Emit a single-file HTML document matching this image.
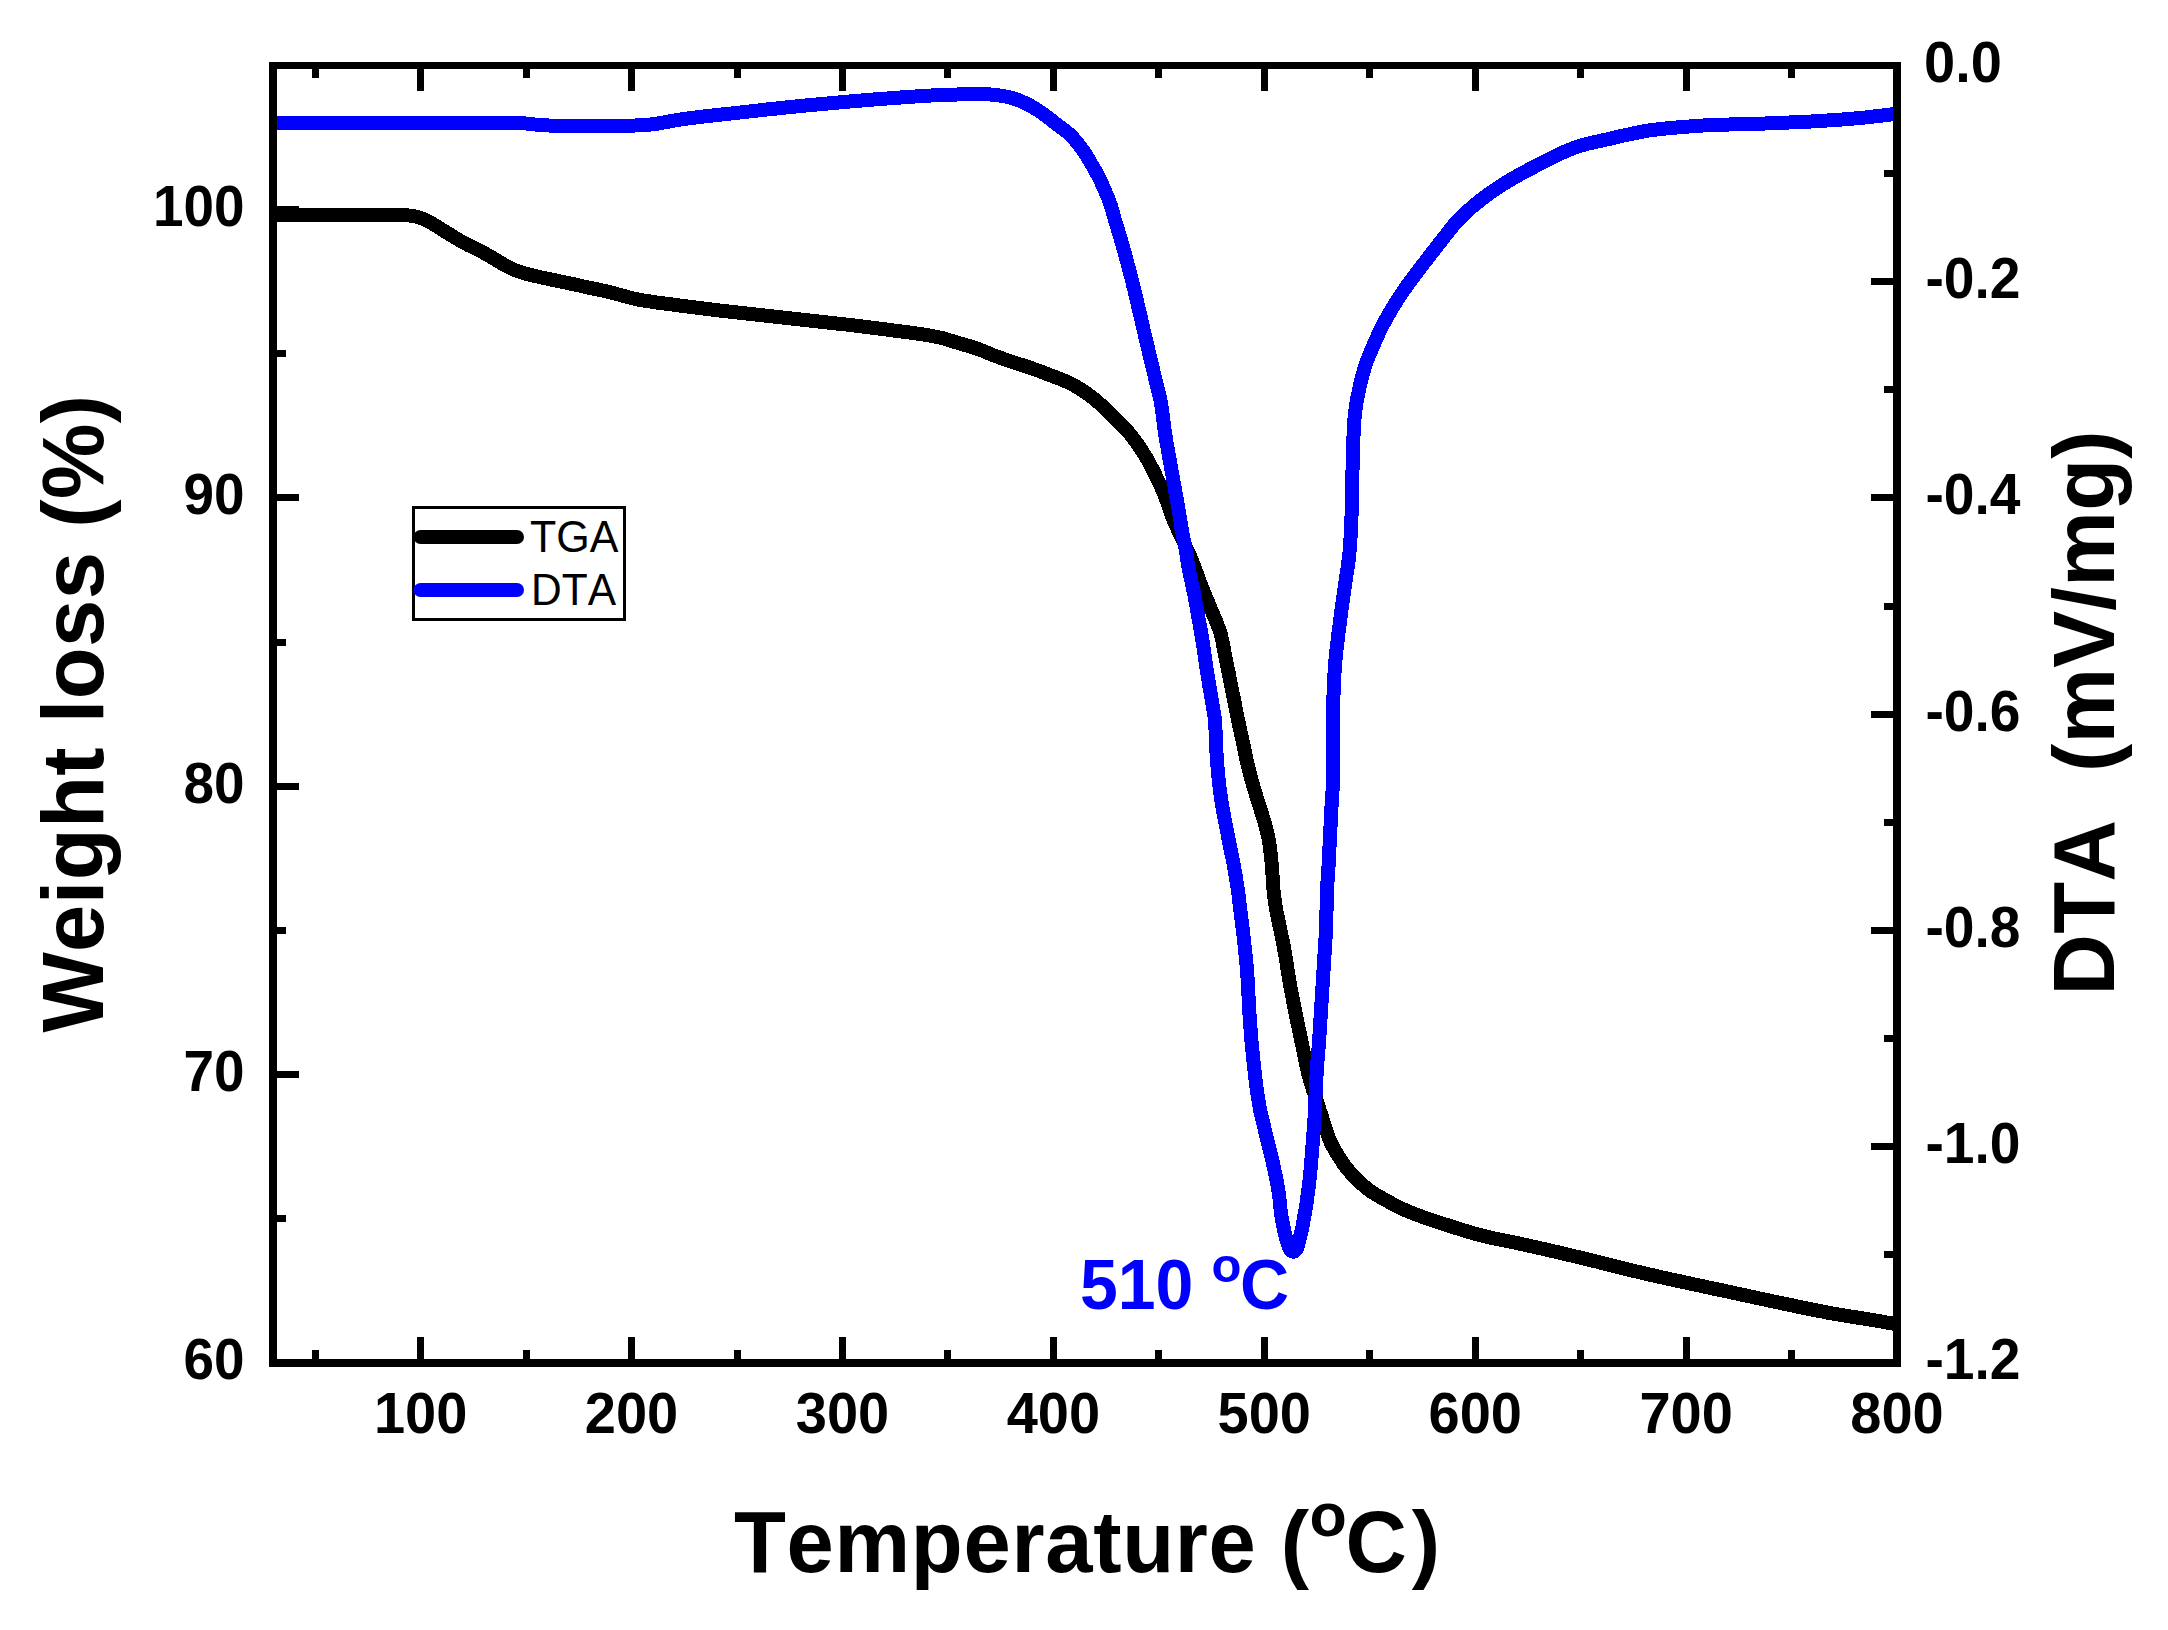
<!DOCTYPE html>
<html lang="en"><head><meta charset="utf-8"><title>TGA / DTA</title>
<style>html,body{margin:0;padding:0;background:#fff}body{width:2168px;height:1630px;overflow:hidden}svg{display:block}text{font-family:"Liberation Sans",sans-serif;font-kerning:none;font-variant-ligatures:none}.b{font-weight:bold}</style></head><body>
<svg width="2168" height="1630" viewBox="0 0 2168 1630">
<rect width="2168" height="1630" fill="#fff"/>
<defs><clipPath id="pc"><rect x="273" y="65.5" width="1624" height="1297.5"/></clipPath></defs>
<g clip-path="url(#pc)" fill="none" stroke-width="14" stroke-linejoin="round" stroke-linecap="butt" shape-rendering="crispEdges">
<path stroke="#000" d="M269.0,215.3 L274.6,215.3 L275.8,215.3 L277.3,215.3 L279.1,215.3 L281.0,215.3 L283.0,215.3 L285.0,215.3 L287.0,215.3 L289.0,215.3 L291.0,215.3 L293.0,215.3 L295.0,215.3 L297.0,215.3 L299.0,215.3 L301.0,215.3 L303.0,215.3 L305.0,215.3 L307.0,215.3 L309.0,215.3 L311.0,215.3 L313.0,215.3 L315.0,215.3 L317.0,215.3 L319.0,215.3 L321.0,215.3 L323.0,215.3 L325.0,215.3 L327.0,215.3 L329.0,215.3 L331.0,215.3 L333.0,215.3 L335.0,215.3 L337.0,215.3 L339.0,215.3 L341.0,215.3 L343.0,215.3 L345.0,215.3 L347.0,215.3 L349.0,215.3 L351.0,215.3 L353.0,215.3 L355.0,215.3 L357.0,215.3 L359.0,215.3 L361.0,215.2 L363.0,215.2 L365.0,215.2 L367.0,215.2 L369.0,215.2 L371.0,215.2 L373.0,215.2 L375.0,215.2 L377.0,215.2 L379.0,215.2 L381.0,215.2 L383.0,215.2 L385.0,215.2 L387.0,215.2 L389.0,215.2 L391.0,215.2 L393.0,215.2 L395.0,215.2 L397.0,215.2 L399.0,215.2 L401.0,215.2 L403.0,215.3 L405.0,215.3 L407.0,215.4 L409.0,215.5 L411.0,215.7 L412.9,216.0 L414.9,216.4 L416.8,216.8 L418.8,217.4 L420.6,218.0 L422.5,218.7 L424.4,219.5 L426.2,220.3 L428.0,221.2 L429.7,222.1 L431.5,223.1 L433.2,224.1 L434.9,225.1 L436.6,226.2 L438.3,227.2 L440.0,228.3 L441.7,229.4 L443.4,230.5 L445.1,231.5 L446.8,232.6 L448.5,233.6 L450.2,234.7 L451.9,235.7 L453.6,236.8 L455.3,237.8 L457.1,238.9 L458.8,239.9 L460.5,240.9 L462.2,241.9 L464.0,242.8 L465.8,243.8 L467.5,244.7 L469.3,245.6 L471.1,246.4 L472.9,247.3 L474.7,248.2 L476.5,249.0 L478.3,249.9 L480.1,250.8 L481.9,251.8 L483.6,252.7 L485.4,253.7 L487.1,254.7 L488.9,255.7 L490.6,256.7 L492.3,257.7 L494.0,258.7 L495.7,259.7 L497.5,260.8 L499.2,261.8 L500.9,262.8 L502.6,263.8 L504.4,264.8 L506.1,265.8 L507.9,266.7 L509.7,267.6 L511.5,268.5 L513.3,269.3 L515.1,270.1 L517.0,270.8 L518.9,271.5 L520.7,272.2 L522.7,272.8 L524.6,273.3 L526.5,273.9 L528.4,274.4 L530.4,274.9 L532.3,275.4 L534.3,275.8 L536.2,276.3 L538.2,276.7 L540.1,277.2 L542.1,277.6 L544.0,278.0 L546.0,278.4 L547.9,278.9 L549.9,279.3 L551.8,279.7 L553.8,280.1 L555.8,280.5 L557.7,280.9 L559.7,281.3 L561.6,281.7 L563.6,282.1 L565.5,282.5 L567.5,282.9 L569.5,283.3 L571.4,283.8 L573.4,284.2 L575.3,284.6 L577.3,285.0 L579.2,285.5 L581.2,285.9 L583.1,286.4 L585.1,286.8 L587.0,287.2 L589.0,287.7 L590.9,288.1 L592.9,288.5 L594.9,288.9 L596.8,289.3 L598.8,289.7 L600.7,290.1 L602.7,290.5 L604.6,291.0 L606.6,291.4 L608.5,291.9 L610.5,292.4 L612.4,292.9 L614.4,293.4 L616.3,293.9 L618.2,294.4 L620.2,295.0 L622.1,295.5 L624.0,296.0 L626.0,296.6 L627.9,297.1 L629.8,297.6 L631.8,298.1 L633.7,298.5 L635.7,299.0 L637.6,299.4 L639.6,299.8 L641.5,300.1 L643.5,300.5 L645.4,300.8 L647.4,301.1 L649.4,301.4 L651.4,301.7 L653.3,302.0 L655.3,302.3 L657.3,302.6 L659.3,302.9 L661.3,303.1 L663.3,303.4 L665.2,303.6 L667.2,303.9 L669.2,304.1 L671.2,304.4 L673.2,304.6 L675.2,304.9 L677.2,305.1 L679.1,305.4 L681.1,305.7 L683.1,305.9 L685.1,306.2 L687.1,306.4 L689.1,306.7 L691.0,306.9 L693.0,307.2 L695.0,307.5 L697.0,307.7 L699.0,308.0 L701.0,308.2 L703.0,308.5 L704.9,308.7 L706.9,309.0 L708.9,309.2 L710.9,309.4 L712.9,309.7 L714.9,309.9 L716.8,310.2 L718.8,310.4 L720.8,310.6 L722.8,310.9 L724.8,311.1 L726.8,311.3 L728.8,311.5 L730.8,311.8 L732.7,312.0 L734.7,312.2 L736.7,312.4 L738.7,312.6 L740.7,312.9 L742.7,313.1 L744.7,313.3 L746.7,313.5 L748.7,313.7 L750.6,313.9 L752.6,314.1 L754.6,314.4 L756.6,314.6 L758.6,314.8 L760.6,315.0 L762.6,315.2 L764.6,315.5 L766.5,315.7 L768.5,315.9 L770.5,316.1 L772.5,316.3 L774.5,316.6 L776.5,316.8 L778.5,317.0 L780.5,317.2 L782.4,317.5 L784.4,317.7 L786.4,317.9 L788.4,318.1 L790.4,318.4 L792.4,318.6 L794.4,318.8 L796.4,319.0 L798.3,319.3 L800.3,319.5 L802.3,319.7 L804.3,319.9 L806.3,320.2 L808.3,320.4 L810.3,320.6 L812.3,320.8 L814.2,321.0 L816.2,321.3 L818.2,321.5 L820.2,321.7 L822.2,321.9 L824.2,322.1 L826.2,322.4 L828.2,322.6 L830.1,322.8 L832.1,323.0 L834.1,323.2 L836.1,323.4 L838.1,323.7 L840.1,323.9 L842.1,324.1 L844.1,324.3 L846.1,324.5 L848.0,324.8 L850.0,325.0 L852.0,325.2 L854.0,325.5 L856.0,325.7 L858.0,326.0 L860.0,326.2 L861.9,326.4 L863.9,326.7 L865.9,326.9 L867.9,327.2 L869.9,327.4 L871.9,327.7 L873.8,327.9 L875.8,328.2 L877.8,328.4 L879.8,328.7 L881.8,328.9 L883.8,329.2 L885.8,329.4 L887.7,329.7 L889.7,329.9 L891.7,330.2 L893.7,330.5 L895.7,330.7 L897.7,331.0 L899.6,331.2 L901.6,331.5 L903.6,331.7 L905.6,332.0 L907.6,332.2 L909.6,332.5 L911.5,332.8 L913.5,333.1 L915.5,333.3 L917.5,333.6 L919.5,333.9 L921.4,334.2 L923.4,334.5 L925.4,334.8 L927.4,335.2 L929.3,335.5 L931.3,335.8 L933.3,336.2 L935.2,336.6 L937.2,337.0 L939.2,337.4 L941.1,337.8 L943.0,338.3 L944.9,338.9 L946.9,339.4 L948.8,340.0 L950.7,340.6 L952.6,341.2 L954.5,341.8 L956.4,342.4 L958.3,343.0 L960.3,343.5 L962.2,344.1 L964.1,344.7 L966.0,345.2 L968.0,345.8 L969.9,346.3 L971.8,346.9 L973.7,347.5 L975.6,348.2 L977.5,348.8 L979.3,349.5 L981.2,350.2 L983.1,351.0 L984.9,351.7 L986.8,352.5 L988.6,353.3 L990.5,354.0 L992.3,354.8 L994.2,355.5 L996.1,356.2 L997.9,356.9 L999.8,357.6 L1001.7,358.2 L1003.6,358.9 L1005.5,359.6 L1007.4,360.2 L1009.3,360.9 L1011.1,361.5 L1013.0,362.1 L1014.9,362.8 L1016.8,363.4 L1018.7,364.0 L1020.7,364.6 L1022.6,365.2 L1024.5,365.8 L1026.4,366.5 L1028.3,367.1 L1030.2,367.7 L1032.0,368.4 L1033.9,369.1 L1035.8,369.7 L1037.7,370.4 L1039.6,371.1 L1041.4,371.8 L1043.3,372.5 L1045.2,373.3 L1047.0,374.0 L1048.9,374.7 L1050.8,375.4 L1052.7,376.1 L1054.5,376.8 L1056.4,377.5 L1058.3,378.2 L1060.1,379.0 L1062.0,379.7 L1063.8,380.5 L1065.7,381.3 L1067.5,382.1 L1069.3,383.0 L1071.1,383.9 L1072.8,384.8 L1074.6,385.7 L1076.3,386.7 L1078.1,387.7 L1079.8,388.8 L1081.5,389.8 L1083.2,390.9 L1084.8,392.0 L1086.5,393.1 L1088.1,394.3 L1089.7,395.5 L1091.3,396.7 L1092.9,397.9 L1094.4,399.2 L1096.0,400.5 L1097.5,401.8 L1099.0,403.1 L1100.5,404.4 L1102.0,405.7 L1103.5,407.1 L1105.0,408.4 L1106.4,409.8 L1107.9,411.2 L1109.3,412.5 L1110.7,414.0 L1112.2,415.4 L1113.6,416.8 L1115.0,418.2 L1116.4,419.6 L1117.8,421.1 L1119.2,422.5 L1120.6,423.9 L1122.0,425.4 L1123.4,426.8 L1124.7,428.3 L1126.1,429.7 L1127.5,431.2 L1128.8,432.7 L1130.1,434.2 L1131.3,435.8 L1132.6,437.3 L1133.8,438.9 L1135.0,440.5 L1136.1,442.2 L1137.3,443.8 L1138.4,445.4 L1139.6,447.1 L1140.7,448.8 L1141.8,450.4 L1142.8,452.1 L1143.9,453.8 L1145.0,455.5 L1146.0,457.2 L1147.0,459.0 L1148.0,460.7 L1149.0,462.4 L1149.9,464.2 L1150.9,466.0 L1151.8,467.7 L1152.7,469.5 L1153.6,471.3 L1154.5,473.1 L1155.4,474.9 L1156.2,476.7 L1157.1,478.5 L1158.0,480.3 L1158.8,482.1 L1159.7,483.9 L1160.5,485.7 L1161.3,487.6 L1162.1,489.4 L1162.9,491.2 L1163.7,493.1 L1164.4,494.9 L1165.1,496.8 L1165.8,498.7 L1166.5,500.6 L1167.2,502.4 L1167.8,504.3 L1168.5,506.2 L1169.1,508.1 L1169.8,510.0 L1170.4,511.9 L1171.1,513.8 L1171.8,515.7 L1172.5,517.5 L1173.2,519.4 L1174.0,521.2 L1174.8,523.1 L1175.6,524.9 L1176.5,526.7 L1177.3,528.5 L1178.2,530.3 L1179.1,532.1 L1179.9,533.9 L1180.8,535.7 L1181.6,537.5 L1182.4,539.4 L1183.3,541.2 L1184.1,543.0 L1184.9,544.8 L1185.8,546.7 L1186.6,548.5 L1187.4,550.3 L1188.2,552.1 L1189.1,553.9 L1189.9,555.8 L1190.7,557.6 L1191.5,559.4 L1192.2,561.3 L1193.0,563.1 L1193.7,565.0 L1194.4,566.9 L1195.1,568.7 L1195.8,570.6 L1196.5,572.5 L1197.2,574.4 L1197.8,576.3 L1198.5,578.1 L1199.2,580.0 L1199.9,581.9 L1200.7,583.7 L1201.4,585.6 L1202.1,587.5 L1202.8,589.3 L1203.6,591.2 L1204.3,593.1 L1205.1,594.9 L1205.8,596.8 L1206.6,598.6 L1207.3,600.5 L1208.1,602.3 L1208.9,604.2 L1209.6,606.0 L1210.4,607.9 L1211.2,609.7 L1211.9,611.5 L1212.7,613.4 L1213.5,615.2 L1214.3,617.1 L1215.1,618.9 L1215.9,620.8 L1216.7,622.6 L1217.4,624.5 L1218.1,626.4 L1218.8,628.2 L1219.5,630.1 L1220.1,632.0 L1220.7,633.9 L1221.2,635.8 L1221.6,637.8 L1222.1,639.7 L1222.5,641.7 L1222.9,643.6 L1223.2,645.6 L1223.6,647.6 L1224.0,649.5 L1224.4,651.5 L1224.7,653.5 L1225.1,655.4 L1225.5,657.4 L1225.9,659.3 L1226.3,661.3 L1226.7,663.3 L1227.1,665.2 L1227.5,667.2 L1227.9,669.2 L1228.3,671.1 L1228.7,673.1 L1229.1,675.0 L1229.4,677.0 L1229.8,679.0 L1230.2,680.9 L1230.6,682.9 L1231.0,684.8 L1231.4,686.8 L1231.8,688.8 L1232.2,690.7 L1232.6,692.7 L1233.0,694.6 L1233.4,696.6 L1233.8,698.6 L1234.2,700.5 L1234.6,702.5 L1234.9,704.5 L1235.3,706.4 L1235.7,708.4 L1236.1,710.3 L1236.5,712.3 L1236.9,714.3 L1237.3,716.2 L1237.7,718.2 L1238.1,720.1 L1238.5,722.1 L1238.9,724.1 L1239.3,726.0 L1239.7,728.0 L1240.2,729.9 L1240.6,731.9 L1241.0,733.8 L1241.5,735.8 L1241.9,737.7 L1242.3,739.7 L1242.7,741.6 L1243.2,743.6 L1243.6,745.6 L1244.0,747.5 L1244.4,749.5 L1244.8,751.4 L1245.2,753.4 L1245.6,755.3 L1246.0,757.3 L1246.4,759.3 L1246.9,761.2 L1247.3,763.2 L1247.8,765.1 L1248.2,767.1 L1248.7,769.0 L1249.2,770.9 L1249.7,772.9 L1250.2,774.8 L1250.7,776.7 L1251.2,778.7 L1251.7,780.6 L1252.3,782.5 L1252.8,784.5 L1253.4,786.4 L1253.9,788.3 L1254.5,790.2 L1255.1,792.1 L1255.7,794.0 L1256.3,796.0 L1256.9,797.9 L1257.5,799.8 L1258.1,801.7 L1258.7,803.6 L1259.3,805.5 L1259.9,807.4 L1260.5,809.3 L1261.1,811.2 L1261.7,813.1 L1262.3,815.0 L1262.9,816.9 L1263.5,818.8 L1264.1,820.8 L1264.6,822.7 L1265.2,824.6 L1265.7,826.5 L1266.2,828.5 L1266.7,830.4 L1267.2,832.3 L1267.6,834.3 L1268.0,836.3 L1268.4,838.2 L1268.7,840.2 L1269.1,842.2 L1269.4,844.1 L1269.7,846.1 L1270.0,848.1 L1270.2,850.1 L1270.5,852.1 L1270.7,854.0 L1270.9,856.0 L1271.1,858.0 L1271.3,860.0 L1271.5,862.0 L1271.7,864.0 L1271.8,866.0 L1272.0,868.0 L1272.1,870.0 L1272.3,872.0 L1272.4,874.0 L1272.6,876.0 L1272.7,878.0 L1272.8,880.0 L1273.0,882.0 L1273.1,884.0 L1273.2,886.0 L1273.4,887.9 L1273.5,889.9 L1273.7,891.9 L1273.9,893.9 L1274.2,895.9 L1274.4,897.9 L1274.7,899.9 L1274.9,901.9 L1275.2,903.8 L1275.5,905.8 L1275.9,907.8 L1276.2,909.7 L1276.6,911.7 L1277.0,913.7 L1277.4,915.6 L1277.8,917.6 L1278.2,919.5 L1278.6,921.5 L1279.0,923.5 L1279.4,925.4 L1279.9,927.4 L1280.3,929.3 L1280.7,931.3 L1281.1,933.2 L1281.5,935.2 L1281.9,937.2 L1282.3,939.1 L1282.7,941.1 L1283.1,943.0 L1283.5,945.0 L1283.8,947.0 L1284.2,948.9 L1284.5,950.9 L1284.9,952.9 L1285.2,954.9 L1285.5,956.8 L1285.8,958.8 L1286.2,960.8 L1286.5,962.8 L1286.8,964.7 L1287.1,966.7 L1287.4,968.7 L1287.8,970.7 L1288.1,972.6 L1288.4,974.6 L1288.7,976.6 L1289.0,978.6 L1289.4,980.5 L1289.7,982.5 L1290.0,984.5 L1290.4,986.4 L1290.7,988.4 L1291.1,990.4 L1291.5,992.3 L1291.8,994.3 L1292.2,996.3 L1292.6,998.2 L1293.0,1000.2 L1293.3,1002.2 L1293.7,1004.1 L1294.1,1006.1 L1294.5,1008.0 L1294.9,1010.0 L1295.3,1012.0 L1295.7,1013.9 L1296.1,1015.9 L1296.5,1017.8 L1296.9,1019.8 L1297.3,1021.8 L1297.7,1023.7 L1298.1,1025.7 L1298.5,1027.6 L1299.0,1029.6 L1299.4,1031.6 L1299.8,1033.5 L1300.2,1035.5 L1300.6,1037.4 L1301.0,1039.4 L1301.4,1041.3 L1301.8,1043.3 L1302.2,1045.3 L1302.6,1047.2 L1303.0,1049.2 L1303.4,1051.1 L1303.8,1053.1 L1304.2,1055.1 L1304.6,1057.0 L1305.0,1059.0 L1305.4,1060.9 L1305.9,1062.9 L1306.3,1064.9 L1306.7,1066.8 L1307.1,1068.8 L1307.6,1070.7 L1308.0,1072.7 L1308.5,1074.6 L1309.0,1076.5 L1309.5,1078.4 L1310.1,1080.4 L1310.6,1082.3 L1311.2,1084.2 L1311.8,1086.1 L1312.4,1088.0 L1313.0,1089.9 L1313.7,1091.8 L1314.3,1093.7 L1314.9,1095.6 L1315.5,1097.5 L1316.2,1099.4 L1316.8,1101.3 L1317.4,1103.2 L1318.0,1105.1 L1318.7,1107.0 L1319.3,1108.9 L1319.9,1110.8 L1320.6,1112.7 L1321.2,1114.6 L1321.8,1116.5 L1322.4,1118.4 L1323.0,1120.3 L1323.6,1122.2 L1324.2,1124.2 L1324.8,1126.1 L1325.4,1128.0 L1326.1,1129.9 L1326.7,1131.8 L1327.3,1133.7 L1328.0,1135.5 L1328.7,1137.4 L1329.4,1139.3 L1330.2,1141.1 L1331.0,1142.9 L1331.9,1144.7 L1332.8,1146.5 L1333.8,1148.3 L1334.8,1150.0 L1335.8,1151.7 L1336.8,1153.4 L1337.9,1155.1 L1338.9,1156.8 L1340.0,1158.5 L1341.1,1160.2 L1342.2,1161.9 L1343.3,1163.6 L1344.5,1165.2 L1345.6,1166.8 L1346.9,1168.4 L1348.1,1169.9 L1349.4,1171.4 L1350.7,1172.9 L1352.1,1174.4 L1353.5,1175.9 L1354.9,1177.3 L1356.3,1178.7 L1357.7,1180.1 L1359.1,1181.5 L1360.6,1182.9 L1362.1,1184.3 L1363.6,1185.6 L1365.1,1186.9 L1366.6,1188.2 L1368.2,1189.4 L1369.8,1190.6 L1371.4,1191.7 L1373.1,1192.8 L1374.8,1193.9 L1376.5,1194.9 L1378.2,1195.9 L1380.0,1196.9 L1381.7,1197.9 L1383.5,1198.9 L1385.2,1199.8 L1387.0,1200.8 L1388.7,1201.8 L1390.5,1202.8 L1392.2,1203.7 L1394.0,1204.7 L1395.8,1205.6 L1397.5,1206.5 L1399.3,1207.4 L1401.1,1208.3 L1402.9,1209.1 L1404.8,1209.9 L1406.6,1210.7 L1408.4,1211.5 L1410.3,1212.3 L1412.1,1213.0 L1414.0,1213.7 L1415.9,1214.4 L1417.7,1215.1 L1419.6,1215.8 L1421.5,1216.5 L1423.4,1217.2 L1425.3,1217.9 L1427.2,1218.5 L1429.0,1219.2 L1430.9,1219.8 L1432.8,1220.5 L1434.7,1221.1 L1436.6,1221.7 L1438.5,1222.3 L1440.4,1223.0 L1442.3,1223.6 L1444.2,1224.2 L1446.2,1224.8 L1448.1,1225.4 L1450.0,1226.0 L1451.9,1226.6 L1453.8,1227.3 L1455.7,1227.9 L1457.6,1228.5 L1459.5,1229.1 L1461.4,1229.7 L1463.3,1230.2 L1465.2,1230.8 L1467.1,1231.4 L1469.1,1232.0 L1471.0,1232.5 L1472.9,1233.1 L1474.8,1233.6 L1476.7,1234.2 L1478.7,1234.7 L1480.6,1235.2 L1482.5,1235.7 L1484.5,1236.2 L1486.4,1236.7 L1488.4,1237.1 L1490.3,1237.5 L1492.3,1238.0 L1494.2,1238.4 L1496.2,1238.8 L1498.1,1239.2 L1500.1,1239.6 L1502.1,1240.0 L1504.0,1240.4 L1506.0,1240.8 L1508.0,1241.2 L1509.9,1241.6 L1511.9,1242.0 L1513.8,1242.4 L1515.8,1242.8 L1517.8,1243.2 L1519.7,1243.6 L1521.7,1244.1 L1523.6,1244.5 L1525.6,1244.9 L1527.5,1245.4 L1529.5,1245.8 L1531.4,1246.2 L1533.4,1246.7 L1535.3,1247.1 L1537.3,1247.6 L1539.2,1248.0 L1541.2,1248.4 L1543.1,1248.9 L1545.1,1249.3 L1547.0,1249.8 L1549.0,1250.2 L1550.9,1250.7 L1552.9,1251.1 L1554.8,1251.6 L1556.8,1252.0 L1558.7,1252.5 L1560.7,1253.0 L1562.6,1253.4 L1564.6,1253.9 L1566.5,1254.3 L1568.4,1254.8 L1570.4,1255.2 L1572.3,1255.7 L1574.3,1256.2 L1576.2,1256.6 L1578.2,1257.1 L1580.1,1257.6 L1582.1,1258.0 L1584.0,1258.5 L1586.0,1259.0 L1587.9,1259.4 L1589.8,1259.9 L1591.8,1260.4 L1593.7,1260.9 L1595.7,1261.3 L1597.6,1261.8 L1599.6,1262.3 L1601.5,1262.8 L1603.4,1263.3 L1605.4,1263.8 L1607.3,1264.3 L1609.2,1264.8 L1611.2,1265.3 L1613.1,1265.8 L1615.1,1266.2 L1617.0,1266.7 L1618.9,1267.2 L1620.9,1267.7 L1622.8,1268.2 L1624.8,1268.7 L1626.7,1269.2 L1628.6,1269.6 L1630.6,1270.1 L1632.5,1270.6 L1634.5,1271.1 L1636.4,1271.5 L1638.4,1272.0 L1640.3,1272.4 L1642.3,1272.9 L1644.2,1273.4 L1646.2,1273.8 L1648.1,1274.3 L1650.1,1274.7 L1652.0,1275.1 L1654.0,1275.6 L1655.9,1276.0 L1657.9,1276.5 L1659.8,1276.9 L1661.8,1277.4 L1663.7,1277.8 L1665.7,1278.2 L1667.6,1278.7 L1669.6,1279.1 L1671.5,1279.5 L1673.5,1280.0 L1675.4,1280.4 L1677.4,1280.8 L1679.3,1281.2 L1681.3,1281.6 L1683.2,1282.1 L1685.2,1282.5 L1687.2,1282.9 L1689.1,1283.3 L1691.1,1283.7 L1693.0,1284.2 L1695.0,1284.6 L1696.9,1285.0 L1698.9,1285.4 L1700.8,1285.8 L1702.8,1286.2 L1704.8,1286.7 L1706.7,1287.1 L1708.7,1287.5 L1710.6,1287.9 L1712.6,1288.3 L1714.5,1288.8 L1716.5,1289.2 L1718.4,1289.6 L1720.4,1290.0 L1722.4,1290.4 L1724.3,1290.9 L1726.3,1291.3 L1728.2,1291.7 L1730.2,1292.1 L1732.1,1292.5 L1734.1,1293.0 L1736.0,1293.4 L1738.0,1293.8 L1740.0,1294.2 L1741.9,1294.7 L1743.9,1295.1 L1745.8,1295.5 L1747.8,1295.9 L1749.7,1296.3 L1751.7,1296.8 L1753.6,1297.2 L1755.6,1297.6 L1757.5,1298.0 L1759.5,1298.5 L1761.5,1298.9 L1763.4,1299.3 L1765.4,1299.7 L1767.3,1300.1 L1769.3,1300.6 L1771.2,1301.0 L1773.2,1301.4 L1775.1,1301.8 L1777.1,1302.2 L1779.1,1302.6 L1781.0,1303.0 L1783.0,1303.5 L1784.9,1303.9 L1786.9,1304.3 L1788.8,1304.7 L1790.8,1305.1 L1792.8,1305.5 L1794.7,1305.9 L1796.7,1306.4 L1798.6,1306.8 L1800.6,1307.2 L1802.6,1307.6 L1804.5,1308.0 L1806.5,1308.4 L1808.4,1308.8 L1810.4,1309.2 L1812.3,1309.6 L1814.3,1310.0 L1816.3,1310.4 L1818.2,1310.8 L1820.2,1311.2 L1822.2,1311.5 L1824.1,1311.9 L1826.1,1312.3 L1828.0,1312.7 L1830.0,1313.0 L1832.0,1313.4 L1834.0,1313.7 L1835.9,1314.1 L1837.9,1314.4 L1839.9,1314.7 L1841.8,1315.1 L1843.8,1315.4 L1845.8,1315.7 L1847.8,1316.0 L1849.7,1316.3 L1851.7,1316.7 L1853.7,1317.0 L1855.7,1317.3 L1857.6,1317.6 L1859.6,1317.9 L1861.6,1318.2 L1863.6,1318.5 L1865.5,1318.9 L1867.5,1319.2 L1869.5,1319.5 L1871.5,1319.8 L1873.4,1320.1 L1875.4,1320.5 L1877.4,1320.8 L1879.3,1321.2 L1881.3,1321.5 L1883.3,1321.9 L1885.3,1322.2 L1887.2,1322.6 L1889.2,1322.9 L1891.1,1323.3 L1892.9,1323.6 L1894.6,1323.9 L1896.0,1324.1 L1899.0,1324.6"/>
<path stroke="#00f" d="M269.0,122.7 L274.6,122.7 L275.8,122.7 L277.3,122.7 L279.1,122.7 L281.0,122.7 L283.0,122.7 L285.0,122.7 L287.0,122.7 L289.0,122.7 L291.0,122.7 L293.0,122.7 L295.0,122.7 L297.0,122.7 L299.0,122.7 L301.0,122.7 L303.0,122.7 L305.0,122.7 L307.0,122.7 L309.0,122.7 L311.0,122.7 L313.0,122.7 L315.0,122.7 L317.0,122.7 L319.0,122.7 L321.0,122.7 L323.0,122.7 L325.0,122.7 L327.0,122.7 L329.0,122.7 L331.0,122.7 L333.0,122.7 L335.0,122.7 L337.0,122.7 L339.0,122.7 L341.0,122.7 L343.0,122.7 L345.0,122.7 L347.0,122.7 L349.0,122.7 L351.0,122.7 L353.0,122.7 L355.0,122.7 L357.0,122.7 L359.0,122.7 L361.0,122.7 L363.0,122.7 L365.0,122.7 L367.0,122.7 L369.0,122.7 L371.0,122.7 L373.0,122.7 L375.0,122.7 L377.0,122.7 L379.0,122.7 L381.0,122.7 L383.0,122.7 L385.0,122.7 L387.0,122.7 L389.0,122.7 L391.0,122.7 L393.0,122.7 L395.0,122.7 L397.0,122.7 L399.0,122.7 L401.0,122.7 L403.0,122.7 L405.0,122.7 L407.0,122.7 L409.0,122.7 L411.0,122.7 L413.0,122.7 L415.0,122.7 L417.0,122.7 L419.0,122.7 L421.0,122.7 L423.0,122.7 L425.0,122.7 L427.0,122.7 L429.0,122.7 L431.0,122.7 L433.0,122.7 L435.0,122.7 L437.0,122.7 L439.0,122.7 L441.0,122.7 L443.0,122.7 L445.0,122.7 L447.0,122.7 L449.0,122.7 L451.0,122.7 L453.0,122.7 L455.0,122.7 L457.0,122.7 L459.0,122.7 L461.0,122.7 L463.0,122.7 L465.0,122.7 L467.0,122.7 L469.0,122.7 L471.0,122.7 L473.0,122.7 L475.0,122.7 L477.0,122.7 L479.0,122.7 L481.0,122.7 L483.0,122.7 L485.0,122.7 L487.0,122.7 L489.0,122.7 L491.0,122.7 L493.0,122.7 L495.0,122.7 L497.0,122.7 L499.0,122.7 L501.0,122.7 L503.0,122.7 L505.0,122.7 L507.0,122.7 L509.0,122.7 L511.0,122.7 L513.0,122.7 L515.0,122.8 L517.0,122.8 L519.0,122.9 L521.0,123.1 L523.0,123.2 L525.0,123.4 L527.0,123.6 L528.9,123.9 L530.9,124.1 L532.9,124.3 L534.9,124.5 L536.9,124.6 L538.9,124.8 L540.9,125.0 L542.9,125.1 L544.9,125.3 L546.9,125.4 L548.9,125.5 L550.9,125.6 L552.9,125.7 L554.9,125.7 L556.9,125.7 L558.9,125.8 L560.9,125.8 L562.9,125.8 L564.9,125.8 L566.9,125.8 L568.9,125.8 L570.9,125.8 L572.9,125.9 L574.9,125.9 L576.9,125.9 L578.9,125.9 L580.9,125.9 L582.9,125.9 L584.9,125.9 L586.9,125.9 L588.9,125.9 L590.9,125.9 L592.9,125.9 L594.9,125.9 L596.9,125.9 L598.9,125.9 L600.9,125.9 L602.9,125.9 L604.9,125.9 L606.9,125.9 L608.9,125.8 L610.9,125.8 L612.9,125.8 L614.9,125.8 L616.9,125.8 L618.9,125.8 L620.9,125.8 L622.9,125.7 L624.9,125.7 L626.9,125.7 L628.9,125.7 L630.9,125.6 L632.9,125.6 L634.9,125.5 L636.9,125.4 L638.9,125.3 L640.9,125.2 L642.9,125.1 L644.9,125.0 L646.9,124.8 L648.9,124.6 L650.8,124.5 L652.8,124.3 L654.8,124.0 L656.8,123.7 L658.7,123.4 L660.7,123.1 L662.7,122.7 L664.7,122.3 L666.6,122.0 L668.6,121.6 L670.6,121.2 L672.5,120.8 L674.5,120.5 L676.5,120.1 L678.4,119.8 L680.4,119.5 L682.4,119.2 L684.4,118.9 L686.4,118.6 L688.3,118.4 L690.3,118.1 L692.3,117.9 L694.3,117.6 L696.3,117.4 L698.3,117.1 L700.2,116.9 L702.2,116.7 L704.2,116.4 L706.2,116.2 L708.2,116.0 L710.2,115.8 L712.2,115.5 L714.2,115.3 L716.1,115.1 L718.1,114.9 L720.1,114.7 L722.1,114.4 L724.1,114.2 L726.1,114.0 L728.1,113.8 L730.1,113.6 L732.1,113.4 L734.0,113.2 L736.0,112.9 L738.0,112.7 L740.0,112.5 L742.0,112.3 L744.0,112.1 L746.0,111.8 L748.0,111.6 L750.0,111.4 L751.9,111.2 L753.9,111.0 L755.9,110.7 L757.9,110.5 L759.9,110.3 L761.9,110.1 L763.9,109.9 L765.9,109.6 L767.8,109.4 L769.8,109.2 L771.8,109.0 L773.8,108.8 L775.8,108.6 L777.8,108.4 L779.8,108.2 L781.8,107.9 L783.8,107.7 L785.7,107.5 L787.7,107.3 L789.7,107.1 L791.7,106.9 L793.7,106.7 L795.7,106.5 L797.7,106.3 L799.7,106.1 L801.7,105.9 L803.7,105.7 L805.6,105.5 L807.6,105.3 L809.6,105.1 L811.6,104.9 L813.6,104.8 L815.6,104.6 L817.6,104.4 L819.6,104.2 L821.6,104.0 L823.6,103.8 L825.6,103.6 L827.5,103.5 L829.5,103.3 L831.5,103.1 L833.5,102.9 L835.5,102.7 L837.5,102.6 L839.5,102.4 L841.5,102.2 L843.5,102.0 L845.5,101.8 L847.5,101.7 L849.5,101.5 L851.5,101.3 L853.4,101.2 L855.4,101.0 L857.4,100.8 L859.4,100.7 L861.4,100.5 L863.4,100.3 L865.4,100.2 L867.4,100.0 L869.4,99.8 L871.4,99.7 L873.4,99.5 L875.4,99.4 L877.4,99.2 L879.4,99.1 L881.4,98.9 L883.4,98.8 L885.3,98.6 L887.3,98.5 L889.3,98.3 L891.3,98.2 L893.3,98.0 L895.3,97.9 L897.3,97.7 L899.3,97.6 L901.3,97.4 L903.3,97.3 L905.3,97.2 L907.3,97.0 L909.3,96.9 L911.3,96.7 L913.3,96.6 L915.3,96.5 L917.3,96.3 L919.3,96.2 L921.3,96.1 L923.3,95.9 L925.3,95.8 L927.3,95.7 L929.2,95.6 L931.2,95.5 L933.2,95.4 L935.2,95.3 L937.2,95.2 L939.2,95.1 L941.2,95.0 L943.2,95.0 L945.2,94.9 L947.2,94.8 L949.2,94.7 L951.2,94.7 L953.2,94.6 L955.2,94.5 L957.2,94.5 L959.2,94.4 L961.2,94.3 L963.2,94.3 L965.2,94.2 L967.2,94.2 L969.2,94.1 L971.2,94.1 L973.2,94.1 L975.2,94.0 L977.2,94.0 L979.2,94.0 L981.2,94.1 L983.2,94.1 L985.2,94.2 L987.2,94.3 L989.2,94.4 L991.2,94.6 L993.2,94.8 L995.2,95.0 L997.2,95.2 L999.2,95.5 L1001.2,95.8 L1003.1,96.1 L1005.1,96.4 L1007.1,96.8 L1009.0,97.2 L1010.9,97.7 L1012.9,98.3 L1014.8,98.9 L1016.7,99.5 L1018.5,100.2 L1020.4,101.0 L1022.2,101.7 L1024.1,102.6 L1025.9,103.4 L1027.7,104.3 L1029.4,105.2 L1031.2,106.2 L1032.9,107.2 L1034.6,108.2 L1036.3,109.3 L1038.0,110.4 L1039.7,111.5 L1041.3,112.6 L1043.0,113.8 L1044.6,114.9 L1046.2,116.1 L1047.8,117.3 L1049.4,118.5 L1051.0,119.8 L1052.5,121.0 L1054.1,122.2 L1055.7,123.5 L1057.3,124.7 L1058.9,125.9 L1060.5,127.0 L1062.1,128.2 L1063.7,129.4 L1065.3,130.6 L1066.8,131.9 L1068.4,133.2 L1069.8,134.6 L1071.2,136.0 L1072.6,137.4 L1074.0,138.9 L1075.3,140.4 L1076.6,141.9 L1077.9,143.4 L1079.1,145.0 L1080.3,146.6 L1081.5,148.2 L1082.7,149.8 L1083.8,151.5 L1084.9,153.2 L1086.0,154.8 L1087.0,156.5 L1088.1,158.3 L1089.1,160.0 L1090.1,161.7 L1091.1,163.4 L1092.1,165.2 L1093.1,166.9 L1094.1,168.6 L1095.1,170.4 L1096.1,172.1 L1097.0,173.9 L1098.0,175.6 L1098.9,177.4 L1099.8,179.2 L1100.7,181.0 L1101.5,182.8 L1102.3,184.6 L1103.1,186.5 L1103.9,188.3 L1104.7,190.1 L1105.5,192.0 L1106.3,193.8 L1107.1,195.7 L1107.9,197.5 L1108.6,199.4 L1109.3,201.2 L1110.0,203.1 L1110.7,205.0 L1111.3,206.9 L1111.8,208.8 L1112.4,210.7 L1112.9,212.6 L1113.4,214.6 L1114.0,216.5 L1114.5,218.4 L1115.0,220.4 L1115.6,222.3 L1116.2,224.2 L1116.8,226.1 L1117.4,228.0 L1118.0,229.9 L1118.6,231.8 L1119.1,233.8 L1119.7,235.7 L1120.3,237.6 L1120.8,239.5 L1121.4,241.4 L1121.9,243.4 L1122.5,245.3 L1123.0,247.2 L1123.6,249.1 L1124.1,251.1 L1124.7,253.0 L1125.2,254.9 L1125.7,256.8 L1126.2,258.8 L1126.8,260.7 L1127.3,262.6 L1127.8,264.6 L1128.3,266.5 L1128.8,268.4 L1129.4,270.4 L1129.9,272.3 L1130.4,274.2 L1130.9,276.2 L1131.4,278.1 L1131.9,280.0 L1132.4,282.0 L1132.8,283.9 L1133.3,285.9 L1133.8,287.8 L1134.3,289.7 L1134.8,291.7 L1135.2,293.6 L1135.7,295.6 L1136.2,297.5 L1136.6,299.5 L1137.1,301.4 L1137.5,303.4 L1138.0,305.3 L1138.4,307.3 L1138.9,309.2 L1139.3,311.1 L1139.8,313.1 L1140.2,315.0 L1140.7,317.0 L1141.1,318.9 L1141.6,320.9 L1142.0,322.8 L1142.5,324.8 L1142.9,326.7 L1143.4,328.7 L1143.8,330.6 L1144.3,332.6 L1144.7,334.5 L1145.2,336.5 L1145.6,338.4 L1146.1,340.4 L1146.6,342.3 L1147.0,344.3 L1147.5,346.2 L1148.0,348.2 L1148.4,350.1 L1148.9,352.1 L1149.3,354.0 L1149.8,355.9 L1150.3,357.9 L1150.7,359.8 L1151.2,361.8 L1151.7,363.7 L1152.1,365.7 L1152.6,367.6 L1153.1,369.6 L1153.5,371.5 L1154.0,373.4 L1154.5,375.4 L1154.9,377.3 L1155.4,379.3 L1155.9,381.2 L1156.4,383.2 L1156.8,385.1 L1157.3,387.0 L1157.8,389.0 L1158.3,390.9 L1158.8,392.9 L1159.3,394.8 L1159.7,396.8 L1160.2,398.7 L1160.6,400.7 L1160.9,402.6 L1161.2,404.6 L1161.6,406.6 L1161.8,408.5 L1162.1,410.5 L1162.4,412.5 L1162.7,414.5 L1162.9,416.5 L1163.2,418.5 L1163.4,420.4 L1163.6,422.4 L1163.9,424.4 L1164.2,426.4 L1164.4,428.4 L1164.7,430.4 L1165.0,432.4 L1165.2,434.3 L1165.6,436.3 L1165.9,438.3 L1166.2,440.3 L1166.5,442.2 L1166.9,444.2 L1167.2,446.2 L1167.6,448.1 L1167.9,450.1 L1168.3,452.1 L1168.6,454.0 L1169.0,456.0 L1169.3,458.0 L1169.7,460.0 L1170.0,461.9 L1170.4,463.9 L1170.7,465.9 L1171.1,467.8 L1171.4,469.8 L1171.8,471.8 L1172.1,473.7 L1172.5,475.7 L1172.8,477.7 L1173.2,479.6 L1173.5,481.6 L1173.9,483.6 L1174.3,485.6 L1174.6,487.5 L1175.0,489.5 L1175.3,491.5 L1175.7,493.4 L1176.1,495.4 L1176.4,497.4 L1176.8,499.3 L1177.1,501.3 L1177.5,503.3 L1177.8,505.2 L1178.2,507.2 L1178.5,509.2 L1178.8,511.1 L1179.1,513.1 L1179.4,515.1 L1179.7,517.1 L1180.0,519.1 L1180.4,521.0 L1180.7,523.0 L1181.0,525.0 L1181.3,526.9 L1181.7,528.9 L1182.0,530.9 L1182.4,532.8 L1182.8,534.8 L1183.2,536.8 L1183.6,538.7 L1184.0,540.7 L1184.4,542.6 L1184.8,544.6 L1185.2,546.6 L1185.5,548.5 L1185.8,550.5 L1186.2,552.5 L1186.5,554.5 L1186.8,556.4 L1187.0,558.4 L1187.3,560.4 L1187.6,562.4 L1188.0,564.4 L1188.3,566.3 L1188.6,568.3 L1189.0,570.3 L1189.4,572.2 L1189.8,574.2 L1190.3,576.1 L1190.7,578.1 L1191.1,580.0 L1191.6,582.0 L1192.0,583.9 L1192.5,585.9 L1192.9,587.8 L1193.3,589.8 L1193.7,591.7 L1194.1,593.7 L1194.5,595.7 L1194.8,597.6 L1195.2,599.6 L1195.6,601.6 L1195.9,603.5 L1196.3,605.5 L1196.6,607.5 L1197.0,609.5 L1197.3,611.4 L1197.6,613.4 L1198.0,615.4 L1198.4,617.3 L1198.7,619.3 L1199.1,621.3 L1199.4,623.2 L1199.8,625.2 L1200.1,627.2 L1200.5,629.1 L1200.9,631.1 L1201.2,633.1 L1201.5,635.1 L1201.9,637.0 L1202.2,639.0 L1202.5,641.0 L1202.8,642.9 L1203.1,644.9 L1203.4,646.9 L1203.7,648.9 L1203.9,650.9 L1204.2,652.8 L1204.5,654.8 L1204.8,656.8 L1205.1,658.8 L1205.4,660.8 L1205.7,662.7 L1205.9,664.7 L1206.3,666.7 L1206.6,668.7 L1206.9,670.7 L1207.2,672.6 L1207.5,674.6 L1207.8,676.6 L1208.1,678.6 L1208.5,680.5 L1208.8,682.5 L1209.1,684.5 L1209.4,686.4 L1209.8,688.4 L1210.1,690.4 L1210.5,692.4 L1210.8,694.3 L1211.2,696.3 L1211.5,698.3 L1211.8,700.2 L1212.2,702.2 L1212.5,704.2 L1212.8,706.2 L1213.2,708.1 L1213.5,710.1 L1213.8,712.1 L1214.1,714.1 L1214.4,716.0 L1214.7,718.0 L1214.9,720.0 L1215.1,722.0 L1215.2,724.0 L1215.3,726.0 L1215.4,728.0 L1215.5,730.0 L1215.6,732.0 L1215.6,734.0 L1215.7,736.0 L1215.7,738.0 L1215.8,740.0 L1215.9,742.0 L1216.0,744.0 L1216.1,746.0 L1216.2,748.0 L1216.3,750.0 L1216.4,752.0 L1216.6,754.0 L1216.7,756.0 L1216.8,757.9 L1217.0,759.9 L1217.1,761.9 L1217.3,763.9 L1217.4,765.9 L1217.6,767.9 L1217.8,769.9 L1217.9,771.9 L1218.1,773.9 L1218.3,775.9 L1218.5,777.9 L1218.7,779.9 L1218.9,781.9 L1219.2,783.8 L1219.4,785.8 L1219.6,787.8 L1219.9,789.8 L1220.1,791.8 L1220.4,793.8 L1220.7,795.7 L1221.0,797.7 L1221.3,799.7 L1221.6,801.7 L1221.9,803.7 L1222.2,805.6 L1222.5,807.6 L1222.9,809.6 L1223.2,811.5 L1223.6,813.5 L1223.9,815.5 L1224.3,817.4 L1224.7,819.4 L1225.1,821.4 L1225.5,823.3 L1225.8,825.3 L1226.2,827.3 L1226.6,829.2 L1227.0,831.2 L1227.4,833.1 L1227.8,835.1 L1228.2,837.1 L1228.5,839.0 L1228.9,841.0 L1229.3,843.0 L1229.7,844.9 L1230.1,846.9 L1230.5,848.8 L1230.9,850.8 L1231.3,852.8 L1231.7,854.7 L1232.1,856.7 L1232.5,858.6 L1232.9,860.6 L1233.3,862.6 L1233.7,864.5 L1234.0,866.5 L1234.4,868.5 L1234.7,870.4 L1235.1,872.4 L1235.4,874.4 L1235.8,876.3 L1236.1,878.3 L1236.4,880.3 L1236.7,882.3 L1237.0,884.2 L1237.3,886.2 L1237.6,888.2 L1237.9,890.2 L1238.2,892.2 L1238.4,894.1 L1238.7,896.1 L1238.9,898.1 L1239.1,900.1 L1239.4,902.1 L1239.6,904.1 L1239.9,906.1 L1240.1,908.0 L1240.3,910.0 L1240.6,912.0 L1240.8,914.0 L1241.1,916.0 L1241.3,918.0 L1241.6,919.9 L1241.8,921.9 L1242.1,923.9 L1242.3,925.9 L1242.6,927.9 L1242.8,929.9 L1243.0,931.9 L1243.3,933.8 L1243.5,935.8 L1243.7,937.8 L1243.9,939.8 L1244.2,941.8 L1244.4,943.8 L1244.6,945.8 L1244.8,947.8 L1245.0,949.7 L1245.2,951.7 L1245.4,953.7 L1245.6,955.7 L1245.8,957.7 L1246.0,959.7 L1246.2,961.7 L1246.4,963.7 L1246.6,965.7 L1246.7,967.7 L1246.9,969.7 L1247.1,971.7 L1247.2,973.6 L1247.4,975.6 L1247.5,977.6 L1247.7,979.6 L1247.8,981.6 L1247.9,983.6 L1248.0,985.6 L1248.1,987.6 L1248.2,989.6 L1248.3,991.6 L1248.4,993.6 L1248.5,995.6 L1248.5,997.6 L1248.6,999.6 L1248.7,1001.6 L1248.8,1003.6 L1249.0,1005.6 L1249.1,1007.6 L1249.2,1009.6 L1249.3,1011.6 L1249.4,1013.6 L1249.6,1015.6 L1249.7,1017.6 L1249.8,1019.6 L1250.0,1021.6 L1250.1,1023.6 L1250.3,1025.6 L1250.4,1027.6 L1250.6,1029.5 L1250.7,1031.5 L1250.9,1033.5 L1251.0,1035.5 L1251.2,1037.5 L1251.4,1039.5 L1251.5,1041.5 L1251.7,1043.5 L1251.9,1045.5 L1252.1,1047.5 L1252.3,1049.5 L1252.5,1051.5 L1252.6,1053.5 L1252.8,1055.4 L1253.0,1057.4 L1253.2,1059.4 L1253.5,1061.4 L1253.7,1063.4 L1253.9,1065.4 L1254.1,1067.4 L1254.3,1069.4 L1254.6,1071.4 L1254.8,1073.3 L1255.0,1075.3 L1255.3,1077.3 L1255.5,1079.3 L1255.8,1081.3 L1256.0,1083.3 L1256.3,1085.3 L1256.5,1087.2 L1256.8,1089.2 L1257.1,1091.2 L1257.3,1093.2 L1257.6,1095.2 L1257.9,1097.2 L1258.2,1099.1 L1258.6,1101.1 L1258.9,1103.1 L1259.2,1105.1 L1259.6,1107.0 L1259.9,1109.0 L1260.3,1110.9 L1260.7,1112.9 L1261.2,1114.8 L1261.7,1116.8 L1262.1,1118.7 L1262.6,1120.7 L1263.1,1122.6 L1263.6,1124.5 L1264.1,1126.5 L1264.5,1128.4 L1265.0,1130.4 L1265.4,1132.3 L1265.9,1134.3 L1266.4,1136.2 L1266.8,1138.2 L1267.3,1140.1 L1267.8,1142.0 L1268.3,1144.0 L1268.8,1145.9 L1269.3,1147.9 L1269.7,1149.8 L1270.2,1151.7 L1270.7,1153.7 L1271.2,1155.6 L1271.6,1157.6 L1272.1,1159.5 L1272.6,1161.5 L1273.0,1163.4 L1273.4,1165.4 L1273.9,1167.3 L1274.3,1169.3 L1274.7,1171.2 L1275.1,1173.2 L1275.5,1175.1 L1275.9,1177.1 L1276.3,1179.1 L1276.7,1181.0 L1277.1,1183.0 L1277.4,1185.0 L1277.8,1186.9 L1278.1,1188.9 L1278.4,1190.9 L1278.7,1192.9 L1279.0,1194.8 L1279.2,1196.8 L1279.5,1198.8 L1279.7,1200.8 L1279.9,1202.8 L1280.1,1204.8 L1280.3,1206.8 L1280.5,1208.8 L1280.7,1210.7 L1281.0,1212.7 L1281.3,1214.7 L1281.6,1216.7 L1281.9,1218.7 L1282.2,1220.6 L1282.6,1222.6 L1282.9,1224.6 L1283.3,1226.5 L1283.8,1228.5 L1284.2,1230.4 L1284.6,1232.4 L1285.1,1234.3 L1285.6,1236.3 L1286.1,1238.2 L1286.6,1240.1 L1287.1,1242.1 L1287.7,1244.0 L1288.4,1245.9 L1289.1,1247.7 L1289.9,1249.3 L1291.0,1250.7 L1292.2,1251.5 L1293.4,1251.7 L1294.7,1251.2 L1295.8,1250.2 L1296.7,1248.7 L1297.4,1247.0 L1298.0,1245.1 L1298.5,1243.1 L1299.0,1241.2 L1299.4,1239.2 L1299.9,1237.3 L1300.4,1235.4 L1300.9,1233.4 L1301.4,1231.5 L1301.8,1229.5 L1302.3,1227.6 L1302.7,1225.6 L1303.0,1223.7 L1303.4,1221.7 L1303.7,1219.7 L1304.1,1217.8 L1304.4,1215.8 L1304.7,1213.8 L1305.1,1211.8 L1305.4,1209.9 L1305.7,1207.9 L1306.0,1205.9 L1306.4,1203.9 L1306.7,1202.0 L1307.0,1200.0 L1307.2,1198.0 L1307.5,1196.0 L1307.8,1194.0 L1308.0,1192.1 L1308.3,1190.1 L1308.6,1188.1 L1308.8,1186.1 L1309.0,1184.1 L1309.3,1182.1 L1309.5,1180.1 L1309.7,1178.2 L1309.9,1176.2 L1310.1,1174.2 L1310.3,1172.2 L1310.5,1170.2 L1310.7,1168.2 L1310.8,1166.2 L1311.0,1164.2 L1311.2,1162.2 L1311.3,1160.2 L1311.5,1158.2 L1311.6,1156.2 L1311.8,1154.3 L1311.9,1152.3 L1312.1,1150.3 L1312.3,1148.3 L1312.4,1146.3 L1312.6,1144.3 L1312.7,1142.3 L1312.9,1140.3 L1313.1,1138.3 L1313.2,1136.3 L1313.4,1134.3 L1313.5,1132.3 L1313.7,1130.3 L1313.8,1128.3 L1314.0,1126.3 L1314.1,1124.3 L1314.2,1122.3 L1314.4,1120.4 L1314.5,1118.4 L1314.6,1116.4 L1314.7,1114.4 L1314.8,1112.4 L1314.9,1110.4 L1315.0,1108.4 L1315.1,1106.4 L1315.2,1104.4 L1315.3,1102.4 L1315.3,1100.4 L1315.4,1098.4 L1315.5,1096.4 L1315.6,1094.4 L1315.7,1092.4 L1315.8,1090.4 L1315.8,1088.4 L1315.9,1086.4 L1316.0,1084.4 L1316.1,1082.4 L1316.2,1080.4 L1316.3,1078.4 L1316.4,1076.4 L1316.6,1074.4 L1316.7,1072.4 L1316.8,1070.4 L1316.9,1068.4 L1317.1,1066.4 L1317.2,1064.4 L1317.4,1062.4 L1317.5,1060.4 L1317.7,1058.4 L1317.8,1056.5 L1318.0,1054.5 L1318.2,1052.5 L1318.3,1050.5 L1318.5,1048.5 L1318.6,1046.5 L1318.8,1044.5 L1318.9,1042.5 L1319.1,1040.5 L1319.2,1038.5 L1319.4,1036.5 L1319.5,1034.5 L1319.6,1032.5 L1319.8,1030.5 L1319.9,1028.5 L1320.0,1026.5 L1320.2,1024.5 L1320.3,1022.5 L1320.4,1020.5 L1320.5,1018.5 L1320.7,1016.5 L1320.8,1014.6 L1320.9,1012.6 L1321.0,1010.6 L1321.2,1008.6 L1321.3,1006.6 L1321.4,1004.6 L1321.5,1002.6 L1321.7,1000.6 L1321.8,998.6 L1321.9,996.6 L1322.0,994.6 L1322.2,992.6 L1322.3,990.6 L1322.4,988.6 L1322.5,986.6 L1322.7,984.6 L1322.8,982.6 L1322.9,980.6 L1323.0,978.6 L1323.2,976.6 L1323.3,974.6 L1323.4,972.6 L1323.5,970.6 L1323.6,968.6 L1323.8,966.6 L1323.9,964.7 L1324.0,962.7 L1324.1,960.7 L1324.3,958.7 L1324.4,956.7 L1324.5,954.7 L1324.6,952.7 L1324.7,950.7 L1324.9,948.7 L1325.0,946.7 L1325.1,944.7 L1325.2,942.7 L1325.4,940.7 L1325.5,938.7 L1325.6,936.7 L1325.7,934.7 L1325.8,932.7 L1325.9,930.7 L1326.0,928.7 L1326.0,926.7 L1326.1,924.7 L1326.2,922.7 L1326.2,920.7 L1326.3,918.7 L1326.3,916.7 L1326.4,914.7 L1326.4,912.7 L1326.5,910.7 L1326.5,908.7 L1326.6,906.7 L1326.6,904.7 L1326.6,902.7 L1326.7,900.7 L1326.7,898.7 L1326.8,896.7 L1326.9,894.7 L1326.9,892.7 L1327.0,890.7 L1327.1,888.7 L1327.2,886.7 L1327.3,884.7 L1327.4,882.7 L1327.6,880.7 L1327.7,878.7 L1327.9,876.8 L1328.0,874.8 L1328.2,872.8 L1328.3,870.8 L1328.4,868.8 L1328.5,866.8 L1328.6,864.8 L1328.7,862.8 L1328.8,860.8 L1328.9,858.8 L1329.0,856.8 L1329.1,854.8 L1329.2,852.8 L1329.3,850.8 L1329.4,848.8 L1329.5,846.8 L1329.6,844.8 L1329.7,842.8 L1329.8,840.8 L1329.9,838.8 L1330.0,836.8 L1330.1,834.8 L1330.2,832.8 L1330.3,830.8 L1330.4,828.8 L1330.5,826.8 L1330.6,824.8 L1330.7,822.8 L1330.8,820.8 L1330.9,818.8 L1331.0,816.8 L1331.1,814.8 L1331.2,812.8 L1331.3,810.8 L1331.4,808.8 L1331.5,806.8 L1331.6,804.9 L1331.7,802.9 L1331.8,800.9 L1331.9,798.9 L1332.0,796.9 L1332.2,794.9 L1332.3,792.9 L1332.5,790.9 L1332.6,788.9 L1332.8,786.9 L1332.9,784.9 L1332.9,782.9 L1333.0,780.9 L1333.0,778.9 L1333.0,776.9 L1333.0,774.9 L1333.0,772.9 L1333.0,770.9 L1333.0,768.9 L1333.0,766.9 L1333.0,764.9 L1333.0,762.9 L1333.0,760.9 L1333.0,758.9 L1333.0,756.9 L1333.0,754.9 L1333.0,752.9 L1333.0,750.9 L1333.0,748.9 L1333.0,746.9 L1333.0,744.9 L1333.0,742.9 L1333.0,740.9 L1333.0,738.9 L1333.0,736.9 L1333.0,734.9 L1333.0,732.9 L1333.0,730.9 L1333.0,728.9 L1333.0,726.9 L1333.1,724.9 L1333.1,722.9 L1333.1,720.9 L1333.1,718.9 L1333.1,716.9 L1333.1,714.9 L1333.2,712.9 L1333.2,710.9 L1333.2,708.9 L1333.2,706.9 L1333.3,704.9 L1333.3,702.9 L1333.3,700.9 L1333.4,698.9 L1333.4,696.9 L1333.5,694.9 L1333.5,692.9 L1333.6,690.9 L1333.6,688.9 L1333.7,686.9 L1333.8,684.9 L1333.9,682.9 L1334.0,680.9 L1334.1,678.9 L1334.2,676.9 L1334.4,674.9 L1334.5,672.9 L1334.6,670.9 L1334.8,668.9 L1334.9,666.9 L1335.1,664.9 L1335.3,663.0 L1335.4,661.0 L1335.6,659.0 L1335.8,657.0 L1336.0,655.0 L1336.2,653.0 L1336.4,651.0 L1336.6,649.0 L1336.9,647.0 L1337.1,645.0 L1337.3,643.1 L1337.5,641.1 L1337.8,639.1 L1338.0,637.1 L1338.2,635.1 L1338.5,633.1 L1338.7,631.1 L1339.0,629.2 L1339.3,627.2 L1339.5,625.2 L1339.8,623.2 L1340.0,621.2 L1340.3,619.2 L1340.6,617.3 L1340.8,615.3 L1341.1,613.3 L1341.3,611.3 L1341.6,609.3 L1341.9,607.3 L1342.1,605.4 L1342.4,603.4 L1342.7,601.4 L1342.9,599.4 L1343.2,597.4 L1343.5,595.5 L1343.7,593.5 L1344.0,591.5 L1344.3,589.5 L1344.6,587.5 L1344.9,585.6 L1345.1,583.6 L1345.5,581.6 L1345.8,579.6 L1346.1,577.6 L1346.4,575.7 L1346.7,573.7 L1347.0,571.7 L1347.3,569.7 L1347.6,567.7 L1347.9,565.8 L1348.2,563.8 L1348.4,561.8 L1348.7,559.8 L1348.9,557.8 L1349.1,555.8 L1349.3,553.9 L1349.5,551.9 L1349.7,549.9 L1349.8,547.9 L1350.0,545.9 L1350.1,543.9 L1350.3,541.9 L1350.4,539.9 L1350.5,537.9 L1350.6,535.9 L1350.7,533.9 L1350.8,531.9 L1350.9,529.9 L1351.0,527.9 L1351.1,525.9 L1351.2,523.9 L1351.3,521.9 L1351.3,519.9 L1351.4,517.9 L1351.5,515.9 L1351.6,513.9 L1351.6,511.9 L1351.7,509.9 L1351.7,507.9 L1351.8,505.9 L1351.8,503.9 L1351.9,501.9 L1351.9,499.9 L1351.9,497.9 L1352.0,495.9 L1352.0,493.9 L1352.0,491.9 L1352.1,489.9 L1352.1,487.9 L1352.2,485.9 L1352.2,483.9 L1352.2,481.9 L1352.3,479.9 L1352.3,477.9 L1352.3,475.9 L1352.4,473.9 L1352.4,471.9 L1352.5,469.9 L1352.5,467.9 L1352.6,465.9 L1352.6,463.9 L1352.6,461.9 L1352.7,459.9 L1352.7,457.9 L1352.8,455.9 L1352.9,453.9 L1352.9,451.9 L1353.0,449.9 L1353.0,447.9 L1353.1,445.9 L1353.2,443.9 L1353.2,442.0 L1353.3,440.0 L1353.4,438.0 L1353.5,436.0 L1353.6,434.0 L1353.7,432.0 L1353.8,430.0 L1353.9,428.0 L1354.0,426.0 L1354.1,424.0 L1354.3,422.0 L1354.4,420.0 L1354.6,418.0 L1354.8,416.0 L1355.0,414.0 L1355.2,412.0 L1355.5,410.0 L1355.7,408.1 L1356.0,406.1 L1356.3,404.1 L1356.6,402.1 L1356.9,400.2 L1357.3,398.2 L1357.7,396.2 L1358.1,394.3 L1358.5,392.3 L1358.9,390.3 L1359.3,388.4 L1359.8,386.4 L1360.2,384.5 L1360.7,382.5 L1361.1,380.6 L1361.6,378.6 L1362.1,376.7 L1362.6,374.8 L1363.2,372.9 L1363.7,370.9 L1364.3,369.0 L1364.9,367.1 L1365.5,365.2 L1366.2,363.3 L1366.8,361.4 L1367.5,359.6 L1368.2,357.7 L1368.9,355.8 L1369.7,354.0 L1370.5,352.1 L1371.3,350.3 L1372.1,348.5 L1372.9,346.6 L1373.7,344.8 L1374.5,343.0 L1375.3,341.1 L1376.1,339.3 L1376.9,337.5 L1377.7,335.6 L1378.6,333.8 L1379.4,332.0 L1380.3,330.2 L1381.1,328.4 L1382.0,326.6 L1382.9,324.8 L1383.9,323.1 L1384.8,321.3 L1385.8,319.5 L1386.7,317.8 L1387.7,316.1 L1388.7,314.3 L1389.7,312.6 L1390.7,310.9 L1391.7,309.1 L1392.8,307.4 L1393.8,305.7 L1394.9,304.0 L1395.9,302.3 L1397.0,300.6 L1398.1,299.0 L1399.2,297.3 L1400.3,295.6 L1401.4,293.9 L1402.5,292.3 L1403.6,290.6 L1404.8,289.0 L1405.9,287.4 L1407.1,285.7 L1408.3,284.1 L1409.4,282.5 L1410.6,280.9 L1411.8,279.3 L1413.0,277.7 L1414.2,276.1 L1415.4,274.5 L1416.6,272.9 L1417.8,271.3 L1419.0,269.7 L1420.3,268.1 L1421.5,266.5 L1422.7,264.9 L1423.9,263.3 L1425.1,261.8 L1426.3,260.2 L1427.5,258.6 L1428.8,257.0 L1430.0,255.4 L1431.2,253.8 L1432.4,252.2 L1433.7,250.7 L1434.9,249.1 L1436.1,247.5 L1437.3,245.9 L1438.6,244.3 L1439.8,242.8 L1441.0,241.2 L1442.3,239.6 L1443.5,238.0 L1444.7,236.5 L1446.0,234.9 L1447.2,233.3 L1448.4,231.7 L1449.7,230.1 L1450.9,228.6 L1452.2,227.0 L1453.4,225.5 L1454.7,224.0 L1456.1,222.5 L1457.4,221.0 L1458.8,219.6 L1460.2,218.1 L1461.6,216.7 L1463.0,215.3 L1464.5,213.9 L1465.9,212.6 L1467.4,211.2 L1468.9,209.9 L1470.4,208.6 L1471.9,207.2 L1473.4,205.9 L1475.0,204.7 L1476.5,203.4 L1478.1,202.1 L1479.6,200.9 L1481.2,199.6 L1482.8,198.4 L1484.4,197.2 L1486.0,196.0 L1487.6,194.8 L1489.2,193.6 L1490.8,192.5 L1492.5,191.3 L1494.1,190.2 L1495.8,189.1 L1497.4,188.0 L1499.1,186.9 L1500.8,185.8 L1502.5,184.7 L1504.2,183.7 L1505.9,182.6 L1507.6,181.6 L1509.3,180.5 L1511.0,179.5 L1512.7,178.5 L1514.5,177.5 L1516.2,176.5 L1518.0,175.5 L1519.7,174.6 L1521.5,173.6 L1523.2,172.7 L1525.0,171.7 L1526.8,170.8 L1528.5,169.8 L1530.3,168.9 L1532.1,168.0 L1533.8,167.0 L1535.6,166.1 L1537.4,165.2 L1539.1,164.2 L1540.9,163.3 L1542.7,162.4 L1544.5,161.4 L1546.2,160.5 L1548.0,159.6 L1549.8,158.7 L1551.6,157.8 L1553.4,156.9 L1555.2,156.1 L1557.0,155.2 L1558.8,154.4 L1560.6,153.6 L1562.5,152.7 L1564.3,151.9 L1566.1,151.1 L1568.0,150.3 L1569.8,149.6 L1571.7,148.8 L1573.6,148.1 L1575.4,147.4 L1577.3,146.7 L1579.2,146.1 L1581.1,145.5 L1583.0,145.0 L1584.9,144.4 L1586.9,143.9 L1588.8,143.5 L1590.8,143.0 L1592.7,142.6 L1594.7,142.2 L1596.6,141.7 L1598.6,141.3 L1600.5,140.9 L1602.5,140.4 L1604.5,140.0 L1606.4,139.5 L1608.3,139.1 L1610.3,138.6 L1612.2,138.1 L1614.2,137.7 L1616.1,137.2 L1618.1,136.7 L1620.0,136.3 L1622.0,135.9 L1623.9,135.4 L1625.9,135.0 L1627.8,134.6 L1629.8,134.2 L1631.7,133.8 L1633.7,133.4 L1635.7,133.0 L1637.6,132.6 L1639.6,132.2 L1641.6,131.8 L1643.5,131.4 L1645.5,131.1 L1647.5,130.7 L1649.4,130.4 L1651.4,130.1 L1653.4,129.8 L1655.4,129.6 L1657.4,129.3 L1659.3,129.1 L1661.3,128.9 L1663.3,128.7 L1665.3,128.5 L1667.3,128.3 L1669.3,128.1 L1671.3,127.9 L1673.3,127.7 L1675.3,127.6 L1677.3,127.4 L1679.3,127.2 L1681.3,127.1 L1683.3,126.9 L1685.2,126.8 L1687.2,126.6 L1689.2,126.5 L1691.2,126.3 L1693.2,126.2 L1695.2,126.0 L1697.2,125.9 L1699.2,125.8 L1701.2,125.6 L1703.2,125.5 L1705.2,125.4 L1707.2,125.3 L1709.2,125.2 L1711.2,125.1 L1713.2,125.0 L1715.2,124.9 L1717.2,124.9 L1719.2,124.8 L1721.2,124.7 L1723.2,124.7 L1725.2,124.6 L1727.2,124.5 L1729.2,124.5 L1731.2,124.4 L1733.2,124.4 L1735.2,124.3 L1737.2,124.2 L1739.2,124.2 L1741.2,124.1 L1743.2,124.1 L1745.2,124.0 L1747.2,124.0 L1749.2,123.9 L1751.2,123.8 L1753.2,123.8 L1755.2,123.7 L1757.2,123.7 L1759.2,123.6 L1761.2,123.6 L1763.2,123.5 L1765.2,123.5 L1767.2,123.4 L1769.2,123.3 L1771.2,123.3 L1773.2,123.2 L1775.2,123.1 L1777.2,123.0 L1779.2,123.0 L1781.2,122.9 L1783.2,122.8 L1785.2,122.7 L1787.2,122.6 L1789.1,122.5 L1791.1,122.4 L1793.1,122.4 L1795.1,122.3 L1797.1,122.2 L1799.1,122.1 L1801.1,122.0 L1803.1,121.9 L1805.1,121.8 L1807.1,121.7 L1809.1,121.6 L1811.1,121.5 L1813.1,121.3 L1815.1,121.2 L1817.1,121.1 L1819.1,121.0 L1821.1,120.9 L1823.1,120.8 L1825.1,120.7 L1827.1,120.5 L1829.1,120.4 L1831.1,120.3 L1833.1,120.2 L1835.1,120.0 L1837.1,119.9 L1839.1,119.7 L1841.1,119.6 L1843.1,119.4 L1845.1,119.3 L1847.0,119.1 L1849.0,118.9 L1851.0,118.8 L1853.0,118.6 L1855.0,118.4 L1857.0,118.2 L1859.0,118.0 L1861.0,117.8 L1863.0,117.7 L1865.0,117.5 L1867.0,117.3 L1868.9,117.0 L1870.9,116.8 L1872.9,116.6 L1874.9,116.4 L1876.9,116.1 L1878.9,115.9 L1880.9,115.7 L1882.9,115.4 L1884.8,115.2 L1886.8,114.9 L1888.8,114.7 L1890.8,114.4 L1892.7,114.2 L1894.4,114.0 L1896.0,113.8 L1897.2,113.6 L1899.0,113.4"/>
</g>
<g fill="#000" shape-rendering="crispEdges">
<rect x="269" y="62" width="1632" height="7"/>
<rect x="269" y="1359" width="1632" height="8"/>
<rect x="269" y="62" width="8" height="1305"/>
<rect x="1893" y="62" width="8" height="1305"/>
<rect x="312" y="62" width="7" height="16"/>
<rect x="312" y="1350" width="7" height="17"/>
<rect x="417" y="62" width="7" height="29"/>
<rect x="417" y="1337" width="7" height="30"/>
<rect x="523" y="62" width="7" height="16"/>
<rect x="523" y="1350" width="7" height="17"/>
<rect x="628" y="62" width="7" height="29"/>
<rect x="628" y="1337" width="7" height="30"/>
<rect x="734" y="62" width="7" height="16"/>
<rect x="734" y="1350" width="7" height="17"/>
<rect x="839" y="62" width="7" height="29"/>
<rect x="839" y="1337" width="7" height="30"/>
<rect x="944" y="62" width="7" height="16"/>
<rect x="944" y="1350" width="7" height="17"/>
<rect x="1050" y="62" width="7" height="29"/>
<rect x="1050" y="1337" width="7" height="30"/>
<rect x="1155" y="62" width="7" height="16"/>
<rect x="1155" y="1350" width="7" height="17"/>
<rect x="1261" y="62" width="7" height="29"/>
<rect x="1261" y="1337" width="7" height="30"/>
<rect x="1366" y="62" width="7" height="16"/>
<rect x="1366" y="1350" width="7" height="17"/>
<rect x="1472" y="62" width="7" height="29"/>
<rect x="1472" y="1337" width="7" height="30"/>
<rect x="1577" y="62" width="7" height="16"/>
<rect x="1577" y="1350" width="7" height="17"/>
<rect x="1683" y="62" width="7" height="29"/>
<rect x="1683" y="1337" width="7" height="30"/>
<rect x="1788" y="62" width="7" height="16"/>
<rect x="1788" y="1350" width="7" height="17"/>
<rect x="269" y="1215" width="17" height="7"/>
<rect x="269" y="1071" width="30" height="7"/>
<rect x="269" y="927" width="17" height="7"/>
<rect x="269" y="783" width="30" height="7"/>
<rect x="269" y="639" width="17" height="7"/>
<rect x="269" y="494" width="30" height="7"/>
<rect x="269" y="350" width="17" height="7"/>
<rect x="269" y="206" width="30" height="7"/>
<rect x="1884" y="170" width="17" height="7"/>
<rect x="1871" y="278" width="30" height="7"/>
<rect x="1884" y="386" width="17" height="7"/>
<rect x="1871" y="494" width="30" height="7"/>
<rect x="1884" y="603" width="17" height="7"/>
<rect x="1871" y="711" width="30" height="7"/>
<rect x="1884" y="819" width="17" height="7"/>
<rect x="1871" y="927" width="30" height="7"/>
<rect x="1884" y="1035" width="17" height="7"/>
<rect x="1871" y="1143" width="30" height="7"/>
<rect x="1884" y="1251" width="17" height="7"/>
</g>
<g class="b" font-size="56" fill="#000">
<text transform="translate(420.6,1433.0) scale(1,1.04)" text-anchor="middle">100</text>
<text transform="translate(631.5,1433.0) scale(1,1.04)" text-anchor="middle">200</text>
<text transform="translate(842.5,1433.0) scale(1,1.04)" text-anchor="middle">300</text>
<text transform="translate(1053.4,1433.0) scale(1,1.04)" text-anchor="middle">400</text>
<text transform="translate(1264.3,1433.0) scale(1,1.04)" text-anchor="middle">500</text>
<text transform="translate(1475.2,1433.0) scale(1,1.04)" text-anchor="middle">600</text>
<text transform="translate(1686.1,1433.0) scale(1,1.04)" text-anchor="middle">700</text>
<text transform="translate(1897.0,1433.0) scale(1,1.04)" text-anchor="middle">800</text>
<text transform="translate(244.5,1379.4) scale(0.98,1.04)" text-anchor="end">60</text>
<text transform="translate(244.5,1091.1) scale(0.98,1.04)" text-anchor="end">70</text>
<text transform="translate(244.5,802.7) scale(0.98,1.04)" text-anchor="end">80</text>
<text transform="translate(244.5,514.4) scale(0.98,1.04)" text-anchor="end">90</text>
<text transform="translate(244.5,226.1) scale(0.98,1.04)" text-anchor="end">100</text>
<text transform="translate(1924.0,81.9) scale(1,1.04)">0.0</text>
<text transform="translate(1925.5,298.1) scale(0.985,1.04)">-0.2</text>
<text transform="translate(1925.5,514.4) scale(0.985,1.04)">-0.4</text>
<text transform="translate(1925.5,730.7) scale(0.985,1.04)">-0.6</text>
<text transform="translate(1925.5,946.9) scale(0.985,1.04)">-0.8</text>
<text transform="translate(1925.5,1163.2) scale(0.985,1.04)">-1.0</text>
<text transform="translate(1925.5,1379.4) scale(0.985,1.04)">-1.2</text>
</g>
<g class="b" font-size="85" fill="#000">
<text transform="translate(734.0,1572.0) scale(1,1.02)" letter-spacing="0.7">Temperature (</text>
<text transform="translate(1309.4,1536.3) scale(1,1)" font-size="61">o</text>
<text transform="translate(1345.4,1572.0) scale(1,1.02)">C</text>
<text transform="translate(1411.7,1572.0) scale(1,1.02)">)</text>
<text transform="translate(103.3,713.5) rotate(-90) scale(1,1.02)" text-anchor="middle" letter-spacing="0.35">Weight loss (%)</text>
<text transform="translate(2113.5,995.5) rotate(-90) scale(1,1.02)" letter-spacing="0.3" xml:space="preserve">DTA  (mV/mg)</text>
</g>
<g class="b" font-size="68" fill="#00f">
<text transform="translate(1080.0,1309.0) scale(1,1.04)">510</text>
<text transform="translate(1211.6,1282.0) scale(1,1)" font-size="49">o</text>
<text transform="translate(1240.0,1309.0) scale(1,1.04)">C</text>
</g>
<rect x="413.5" y="507.5" width="211" height="112" fill="#fff" stroke="#000" stroke-width="3" shape-rendering="crispEdges"/>
<g fill="none" stroke-width="14" stroke-linecap="round">
<line x1="420.5" y1="537" x2="517" y2="537" stroke="#000"/>
<line x1="420.5" y1="590" x2="517" y2="590" stroke="#00f"/>
</g>
<g font-size="43" fill="#000"><text transform="translate(530.0,552.0) scale(1,1.04)">TGA</text><text transform="translate(531.0,605.0) scale(0.99,1.04)">DTA</text></g>
</svg></body></html>
